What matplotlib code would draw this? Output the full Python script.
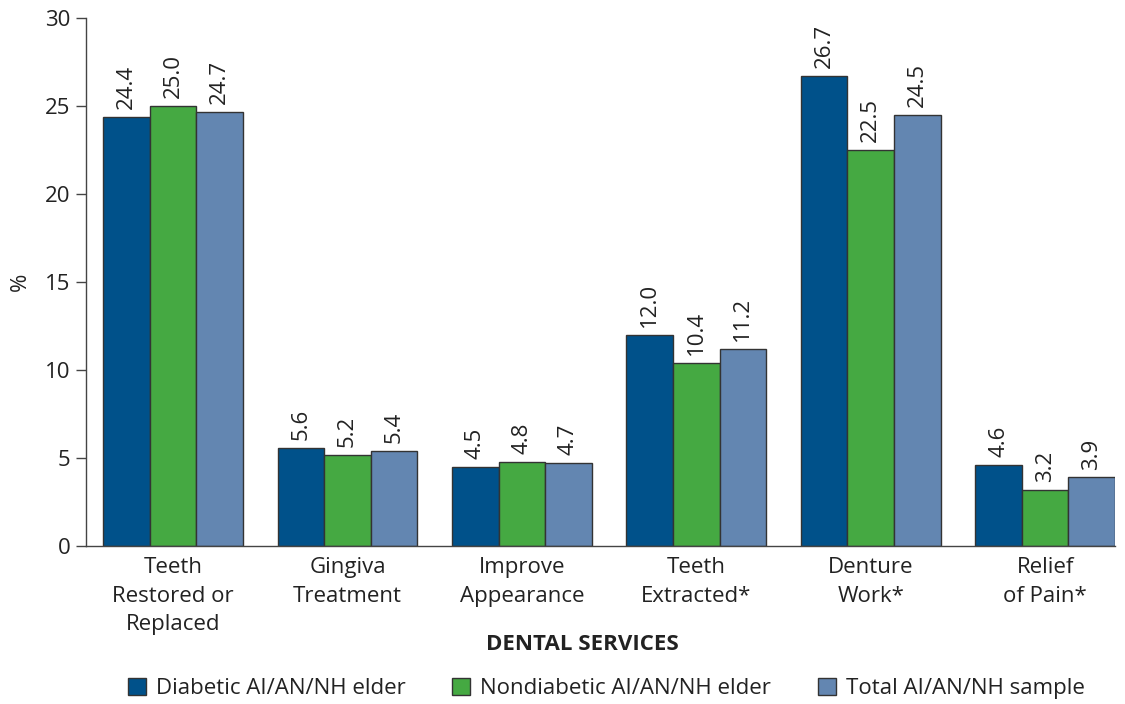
import matplotlib
matplotlib.use("Agg")
from matplotlib import pyplot as plt
import numpy as np

plt.rcParams['font.family'] = ['Open Sans', 'DejaVu Sans']

categories = ["Teeth\nRestored or\nReplaced", "Gingiva\nTreatment", "Improve\nAppearance",
              "Teeth\nExtracted*", "Denture\nWork*", "Relief\nof Pain*"]
diabetic = [24.4, 5.6, 4.5, 12.0, 26.7, 4.6]
nondiabetic = [25.0, 5.2, 4.8, 10.4, 22.5, 3.2]
total = [24.7, 5.4, 4.7, 11.2, 24.5, 3.9]
series_names = ["Diabetic AI/AN/NH elder", "Nondiabetic AI/AN/NH elder", "Total AI/AN/NH sample"]
colors = ["#00518a", "#45a942", "#6386b1"]

fs = 16
fig = plt.figure(figsize=(11.25, 7.04), dpi=100)
ax = fig.add_axes([0.0764, 0.2244, 0.9146, 0.7496])

x = np.arange(len(categories))
w = 0.267
for i, (vals, name, col) in enumerate(zip([diabetic, nondiabetic, total], series_names, colors)):
    pos = x + (i - 1) * w
    ax.bar(pos, vals, width=w, color=col, edgecolor="#333333", linewidth=1.0, label=name)
    for p, v in zip(pos, vals):
        ax.text(p, v + 0.45, "%.1f" % v, rotation=90, ha="center", va="bottom",
                fontsize=fs, color="#222222")

ax.set_xlim(-0.5, 5.4)
ax.set_ylim(0, 30)
ax.set_yticks(np.arange(0, 31, 5))
ax.set_xticks(x)
ax.set_xticklabels(categories, fontsize=fs, color="#222222", linespacing=1.48)
ax.tick_params(axis="x", length=0, pad=8)
ax.tick_params(axis="y", direction="out", length=7, width=1, color="#444444",
               labelsize=fs, labelcolor="#222222", pad=4)
for s in ["top", "right"]:
    ax.spines[s].set_visible(False)
for s in ["left", "bottom"]:
    ax.spines[s].set_color("#444444")
    ax.spines[s].set_linewidth(1.0)

ax.set_ylabel("%", fontsize=fs, color="#222222", labelpad=10)
fig.text(0.518, 0.084, "DENTAL SERVICES", ha="center", va="center",
         fontsize=fs, fontweight="bold", color="#222222")

fig.legend(loc="center", bbox_to_anchor=(0.539, 0.022), ncol=3, frameon=False,
           fontsize=fs, handlelength=0.8, handleheight=0.8, handletextpad=0.45,
           columnspacing=2.1, labelcolor="#222222")

fig.savefig("out.png", dpi=100)
